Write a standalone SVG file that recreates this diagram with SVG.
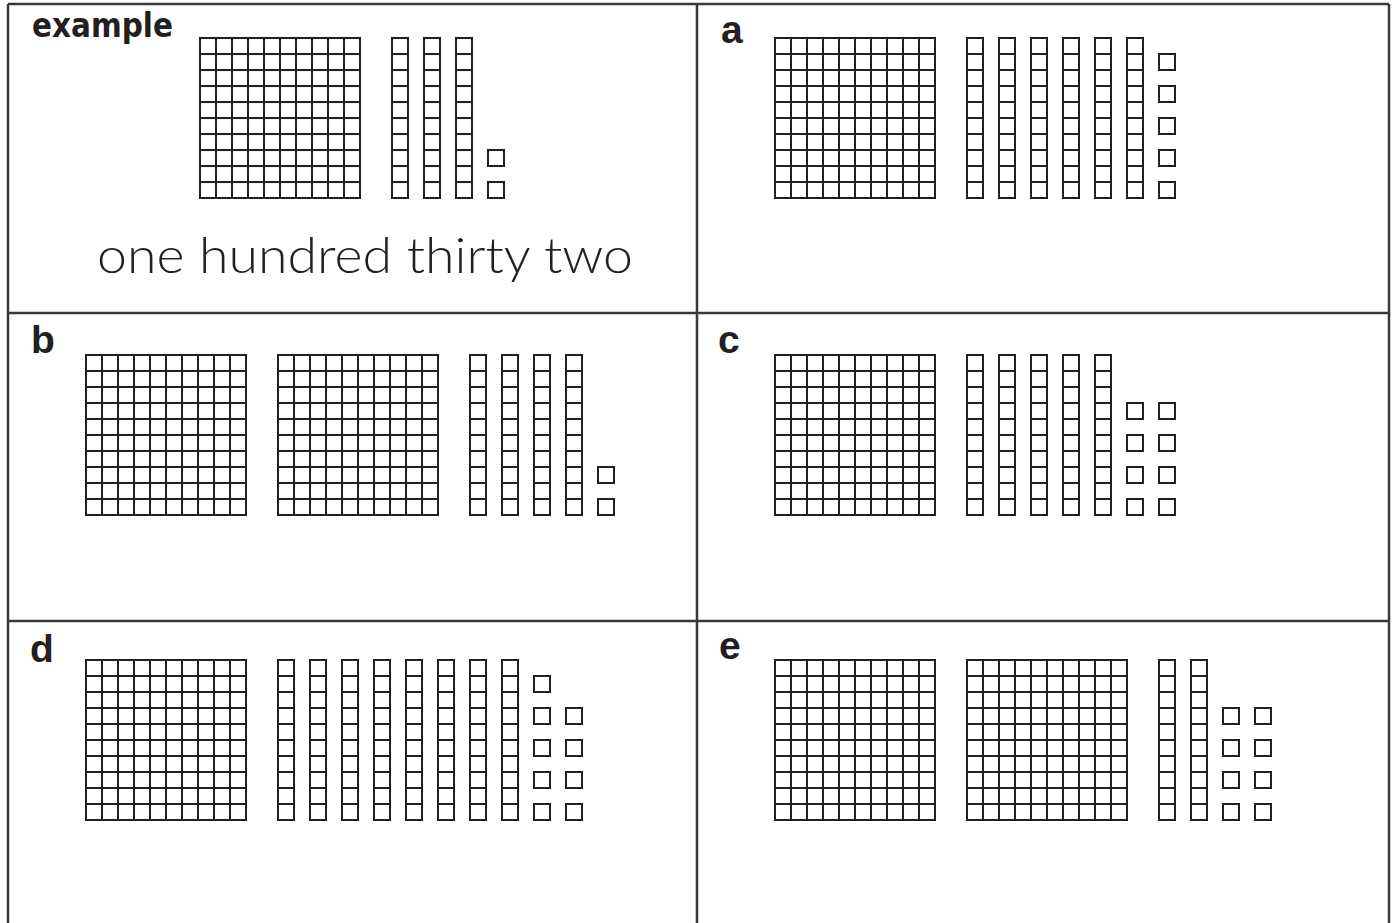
<svg xmlns="http://www.w3.org/2000/svg" xmlns:xlink="http://www.w3.org/1999/xlink" width="1393" height="923" viewBox="0 0 1393 923">
<style>
.frame{stroke:#3a3838;stroke-width:2.5;fill:none}
.blk{stroke:#231f20;stroke-width:2;fill:#fff}
.ln{stroke:#231f20;stroke-width:2}
.lbl{font-family:"Liberation Sans",Arial,sans-serif;font-weight:bold;font-size:39px;fill:#231f20}
.ex{font-family:"DejaVu Sans",sans-serif;font-weight:bold;font-size:33px;fill:#231f20}
.hand{font-family:"Lato","Open Sans",sans-serif;font-weight:300;font-size:50px;fill:#231f20}
</style>
<defs>
<g id="hundred">
<rect class="blk" x="0" y="0" width="160" height="160"/>
<path class="ln" d="M16 0V160M32 0V160M48 0V160M64 0V160M80 0V160M96 0V160M112 0V160M128 0V160M144 0V160M0 16H160M0 32H160M0 48H160M0 64H160M0 80H160M0 96H160M0 112H160M0 128H160M0 144H160"/>
</g>
<g id="rod">
<rect class="blk" x="0" y="0" width="16" height="160"/>
<path class="ln" d="M0 16H16M0 32H16M0 48H16M0 64H16M0 80H16M0 96H16M0 112H16M0 128H16M0 144H16"/>
</g>
<rect id="unit" class="blk" x="0" y="0" width="16" height="16"/>
</defs>
<rect x="0" y="0" width="1393" height="923" fill="#fff"/>
<g id="frame">
<path class="frame" d="M8 4H1389M8 4V923M1389 4V923M697 4V923M8 313H1389M8 621H1389"/>
</g>
<g id="example">
<text class="ex" x="32" y="37" textLength="141" lengthAdjust="spacingAndGlyphs">example</text>
<g transform="translate(200,38)">
<use xlink:href="#hundred"/>
<use xlink:href="#rod" x="192"/>
<use xlink:href="#rod" x="224"/>
<use xlink:href="#rod" x="256"/>
<use xlink:href="#unit" x="288" y="112"/>
<use xlink:href="#unit" x="288" y="144"/>
</g>
<text class="hand" x="97" y="273" textLength="536" lengthAdjust="spacingAndGlyphs">one hundred thirty two</text>
</g>
<g id="panel-a">
<text class="lbl" x="721" y="43">a</text>
<g transform="translate(775,38)">
<use xlink:href="#hundred"/>
<use xlink:href="#rod" x="192"/>
<use xlink:href="#rod" x="224"/>
<use xlink:href="#rod" x="256"/>
<use xlink:href="#rod" x="288"/>
<use xlink:href="#rod" x="320"/>
<use xlink:href="#rod" x="352"/>
<use xlink:href="#unit" x="384" y="16"/>
<use xlink:href="#unit" x="384" y="48"/>
<use xlink:href="#unit" x="384" y="80"/>
<use xlink:href="#unit" x="384" y="112"/>
<use xlink:href="#unit" x="384" y="144"/>
</g>
</g>
<g id="panel-b">
<text class="lbl" x="31" y="353">b</text>
<g transform="translate(86,355)">
<use xlink:href="#hundred"/>
<use xlink:href="#hundred" x="192"/>
<use xlink:href="#rod" x="384"/>
<use xlink:href="#rod" x="416"/>
<use xlink:href="#rod" x="448"/>
<use xlink:href="#rod" x="480"/>
<use xlink:href="#unit" x="512" y="112"/>
<use xlink:href="#unit" x="512" y="144"/>
</g>
</g>
<g id="panel-c">
<text class="lbl" x="718" y="353">c</text>
<g transform="translate(775,355)">
<use xlink:href="#hundred"/>
<use xlink:href="#rod" x="192"/>
<use xlink:href="#rod" x="224"/>
<use xlink:href="#rod" x="256"/>
<use xlink:href="#rod" x="288"/>
<use xlink:href="#rod" x="320"/>
<use xlink:href="#unit" x="352" y="48"/>
<use xlink:href="#unit" x="352" y="80"/>
<use xlink:href="#unit" x="352" y="112"/>
<use xlink:href="#unit" x="352" y="144"/>
<use xlink:href="#unit" x="384" y="48"/>
<use xlink:href="#unit" x="384" y="80"/>
<use xlink:href="#unit" x="384" y="112"/>
<use xlink:href="#unit" x="384" y="144"/>
</g>
</g>
<g id="panel-d">
<text class="lbl" x="30" y="662">d</text>
<g transform="translate(86,660)">
<use xlink:href="#hundred"/>
<use xlink:href="#rod" x="192"/>
<use xlink:href="#rod" x="224"/>
<use xlink:href="#rod" x="256"/>
<use xlink:href="#rod" x="288"/>
<use xlink:href="#rod" x="320"/>
<use xlink:href="#rod" x="352"/>
<use xlink:href="#rod" x="384"/>
<use xlink:href="#rod" x="416"/>
<use xlink:href="#unit" x="448" y="16"/>
<use xlink:href="#unit" x="448" y="48"/>
<use xlink:href="#unit" x="448" y="80"/>
<use xlink:href="#unit" x="448" y="112"/>
<use xlink:href="#unit" x="448" y="144"/>
<use xlink:href="#unit" x="480" y="48"/>
<use xlink:href="#unit" x="480" y="80"/>
<use xlink:href="#unit" x="480" y="112"/>
<use xlink:href="#unit" x="480" y="144"/>
</g>
</g>
<g id="panel-e">
<text class="lbl" x="719" y="659">e</text>
<g transform="translate(775,660)">
<use xlink:href="#hundred"/>
<use xlink:href="#hundred" x="192"/>
<use xlink:href="#rod" x="384"/>
<use xlink:href="#rod" x="416"/>
<use xlink:href="#unit" x="448" y="48"/>
<use xlink:href="#unit" x="448" y="80"/>
<use xlink:href="#unit" x="448" y="112"/>
<use xlink:href="#unit" x="448" y="144"/>
<use xlink:href="#unit" x="480" y="48"/>
<use xlink:href="#unit" x="480" y="80"/>
<use xlink:href="#unit" x="480" y="112"/>
<use xlink:href="#unit" x="480" y="144"/>
</g>
</g>
</svg>
